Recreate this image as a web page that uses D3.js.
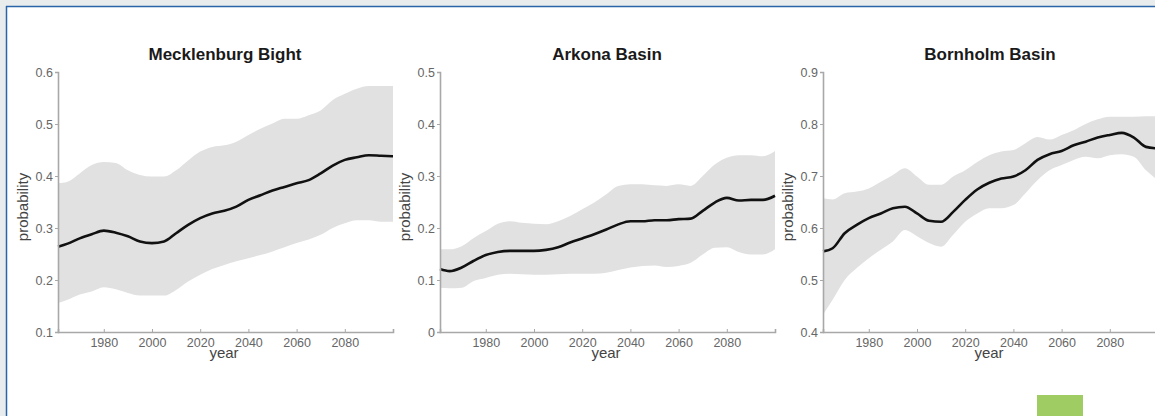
<!DOCTYPE html>
<html><head><meta charset="utf-8">
<script src="https://cdn.jsdelivr.net/npm/d3@7"></script>
<style>body{margin:0;background:#e8ecec}svg{display:block}</style>
</head><body><svg id="c" width="1155" height="416"></svg>
<script>
const years = [1961,1965,1970,1975,1980,1985,1990,1995,2000,2005,2010,2015,2020,2025,2030,2035,2040,2045,2050,2055,2060,2065,2070,2075,2080,2085,2090,2095,2100];
const xTicks = [1980,2000,2020,2040,2060,2080];

const titles = ["Mecklenburg Bight","Arkona Basin","Bornholm Basin"];
const yDomains = [[0.1,0.6],[0,0.5],[0.4,0.9]];
const yTicks = [[0.1,0.2,0.3,0.4,0.5,0.6],[0,0.1,0.2,0.3,0.4,0.5],[0.4,0.5,0.6,0.7,0.8,0.9]];

const meckMean  = [0.264,0.270,0.280,0.288,0.295,0.291,0.284,0.274,0.271,0.274,0.290,0.306,0.319,0.328,0.333,0.341,0.354,0.363,0.372,0.379,0.386,0.392,0.405,0.420,0.431,0.436,0.440,0.439,0.438];
const meckUpper = [0.386,0.389,0.405,0.421,0.427,0.425,0.411,0.402,0.399,0.399,0.411,0.430,0.447,0.456,0.459,0.466,0.479,0.491,0.501,0.510,0.510,0.517,0.526,0.546,0.558,0.568,0.573,0.573,0.573];
const meckLower = [0.156,0.162,0.172,0.178,0.186,0.182,0.175,0.170,0.170,0.170,0.181,0.197,0.210,0.221,0.229,0.236,0.242,0.248,0.255,0.263,0.271,0.278,0.287,0.300,0.309,0.315,0.315,0.312,0.312];

const arkMean  = [0.121,0.117,0.124,0.137,0.148,0.154,0.156,0.156,0.156,0.158,0.163,0.172,0.180,0.188,0.197,0.207,0.213,0.213,0.215,0.215,0.217,0.218,0.233,0.249,0.258,0.253,0.254,0.254,0.262];
const arkUpper = [0.159,0.159,0.165,0.181,0.194,0.208,0.213,0.210,0.208,0.207,0.213,0.223,0.236,0.249,0.265,0.281,0.284,0.284,0.282,0.281,0.284,0.281,0.300,0.322,0.335,0.340,0.340,0.338,0.348];
const arkLower = [0.085,0.084,0.085,0.098,0.104,0.110,0.112,0.111,0.110,0.110,0.111,0.112,0.112,0.112,0.114,0.119,0.124,0.127,0.128,0.125,0.127,0.133,0.149,0.162,0.163,0.154,0.149,0.149,0.159];

const bornMean  = [0.555,0.561,0.590,0.606,0.619,0.628,0.638,0.641,0.628,0.614,0.612,0.631,0.654,0.674,0.687,0.695,0.699,0.711,0.731,0.742,0.748,0.759,0.766,0.774,0.779,0.783,0.774,0.756,0.753];
const bornUpper = [0.657,0.655,0.667,0.670,0.676,0.689,0.702,0.715,0.699,0.683,0.683,0.699,0.711,0.727,0.740,0.747,0.750,0.763,0.775,0.770,0.779,0.788,0.800,0.809,0.814,0.814,0.814,0.815,0.815];
const bornLower = [0.433,0.462,0.500,0.523,0.542,0.558,0.574,0.596,0.584,0.571,0.564,0.587,0.612,0.628,0.638,0.638,0.644,0.667,0.692,0.711,0.721,0.731,0.737,0.734,0.740,0.742,0.737,0.711,0.692];

const means = [meckMean, arkMean, bornMean];
const uppers = [meckUpper, arkUpper, bornUpper];
const lowers = [meckLower, arkLower, bornLower];

const svg = d3.select("#c");
const W = 1155, H = 416;
svg.append("rect").attr("width",W).attr("height",H).attr("fill","#e8ecec");
svg.append("rect").attr("x",7).attr("y",7).attr("width",W-7).attr("height",H-7).attr("fill","#ffffff");
svg.append("line").attr("x1",6.5).attr("x2",6.5).attr("y1",6).attr("y2",H).attr("stroke","#2a64a8").attr("stroke-width",1.5);
svg.append("line").attr("x1",6).attr("x2",W).attr("y1",6.5).attr("y2",6.5).attr("stroke","#2a64a8").attr("stroke-width",1.5);
svg.append("rect").attr("x",1037).attr("y",395).attr("width",46).attr("height",21).attr("fill","#a0cd63");

const panelX = [58, 440, 823];
const plotW = 335, plotTop = 72, plotBottom = 332;
const font = "'Liberation Sans', Arial, Helvetica, sans-serif";

titles.forEach((t,i) => {
  const g = svg.append("g");
  const x = d3.scaleLinear().domain([1961,2100]).range([panelX[i], panelX[i]+plotW]);
  const y = d3.scaleLinear().domain(yDomains[i]).range([plotBottom, plotTop]);
  const data = years.map((yr,k)=>({yr, m:means[i][k], u:uppers[i][k], l:lowers[i][k]}));
  g.append("path").datum(data)
    .attr("d", d3.area().x(d=>x(d.yr)).y0(d=>y(d.l)).y1(d=>y(d.u)).curve(d3.curveMonotoneX))
    .attr("fill","#e1e1e1");
  g.append("path").datum(data)
    .attr("d", d3.line().x(d=>x(d.yr)).y(d=>y(d.m)).curve(d3.curveMonotoneX))
    .attr("fill","none").attr("stroke","#111").attr("stroke-width",2.6);

  const yAx = g.append("g").attr("transform",`translate(${panelX[i]},0)`)
    .call(d3.axisLeft(y).tickValues(yTicks[i]).tickSize(3).tickPadding(2)
      .tickFormat(v => v===0 ? "0" : d3.format(".1f")(v)));
  const xAx = g.append("g").attr("transform",`translate(0,${plotBottom})`)
    .call(d3.axisBottom(x).tickValues(xTicks).tickSize(-3).tickPadding(6).tickFormat(d3.format("d")));
  [yAx,xAx].forEach(a=>{
    a.select(".domain").attr("stroke","#a8a8a8").attr("stroke-width",1.6);
    a.selectAll(".tick line").attr("stroke","#a8a8a8");
    a.selectAll(".tick text").attr("fill","#666").attr("font-family",font).attr("font-size",12.5);
  });
  g.append("text").attr("x", panelX[i]+167).attr("y",60).attr("text-anchor","middle")
    .attr("font-family",font).attr("font-weight","bold").attr("font-size",17).attr("fill","#1a1a1a").text(t);
  g.append("text").attr("x", panelX[i]+166).attr("y",358).attr("text-anchor","middle")
    .attr("font-family",font).attr("font-size",15).attr("fill","#444").text("year");
  g.append("text").attr("transform",`translate(${panelX[i]-30},207) rotate(-90)`).attr("text-anchor","middle")
    .attr("font-family",font).attr("font-size",15).attr("fill","#444").text("probability");
});
</script></body></html>
